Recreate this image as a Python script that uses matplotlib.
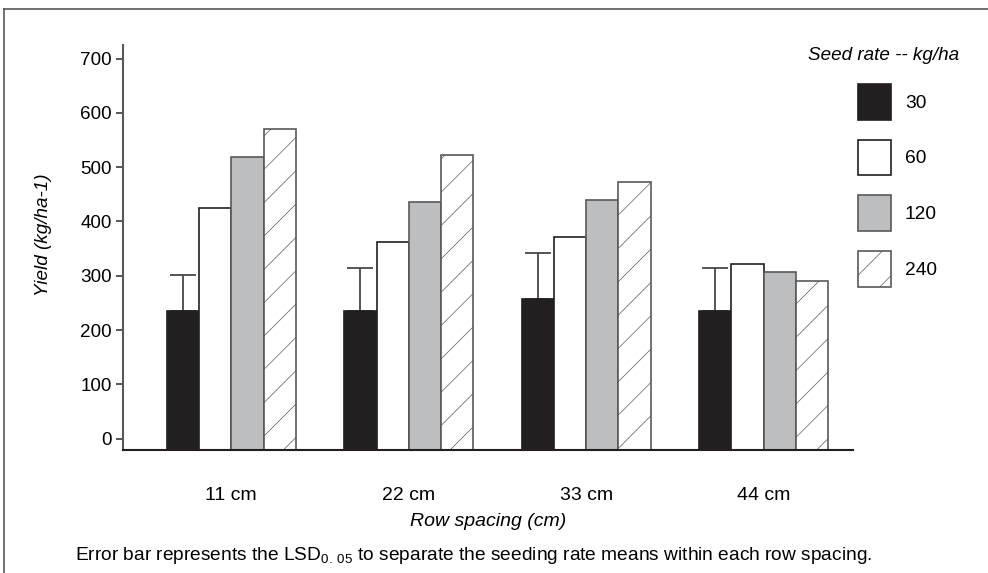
import matplotlib
matplotlib.use('Agg')
import matplotlib.pyplot as plt
from matplotlib.patches import Patch
from matplotlib.lines import Line2D
import numpy as np

plt.rcParams['font.family'] = ['Liberation Sans', 'DejaVu Sans']
plt.rcParams['mathtext.fontset'] = 'custom'
plt.rcParams['mathtext.rm'] = 'Liberation Sans'
plt.rcParams['hatch.color'] = '#d2d3d5'
plt.rcParams['hatch.linewidth'] = 0.5

# data
spacings = ['11 cm', '22 cm', '33 cm', '44 cm']
rates = ['30', '60', '120', '240']
yield_30 = [235, 235, 258, 235]
yield_60 = [424, 363, 371, 321]
yield_120 = [518, 435, 439, 306]
yield_240 = [571, 522, 473, 291]
lsd = [67, 79, 84, 79]

series = [yield_30, yield_60, yield_120, yield_240]
faces = ['#231f20', 'white', '#bcbec0', 'white']
edges = ['#231f20', '#231f20', '#58595b', '#58595b']
hatches = [None, None, None, '/']

ymin, ymax = -21, 725
fig = plt.figure(figsize=(9.88, 5.73), dpi=100)
ax = fig.add_axes([123 / 988, 1 - 450 / 573, 730 / 988, 405 / 573])

x = np.arange(len(spacings))
w = 0.1817
for i, vals in enumerate(series):
    xs = x + (i - 1.5) * w
    v = np.array(vals)
    ax.bar(xs, v - ymin, bottom=ymin, width=w, color=faces[i], edgecolor=edges[i],
           linewidth=1.2, hatch=hatches[i], label=rates[i], zorder=2)
    if i == 0:
        ax.errorbar(xs, v, yerr=[np.zeros(len(v)), lsd], fmt='none', ecolor='#48484a',
                    elinewidth=1.3, capsize=9.5, capthick=1.3, zorder=1)

ax.set_xlim(-0.61, 3.503)
ax.set_ylim(ymin, ymax)
ax.set_yticks(range(0, 701, 100))
ax.set_xticks(x)
ax.set_xticklabels(spacings)
ax.tick_params(axis='y', length=5, width=1.2, color='#3a3a3c', labelsize=13.6, pad=3)
ax.tick_params(axis='x', length=0, labelsize=14, pad=27)
for s in ['top', 'right']:
    ax.spines[s].set_visible(False)
ax.spines['left'].set_color('#58595b')
ax.spines['left'].set_linewidth(1.5)
ax.spines['bottom'].set_color('#231f20')
ax.spines['bottom'].set_linewidth(1.5)

ax.set_ylabel('Yield (kg/ha-1)', fontsize=13.6, style='italic')
ax.yaxis.set_label_coords(-0.097, 0.531)
ax.set_xlabel('Row spacing (cm)', fontsize=14, style='italic', labelpad=6)

handles = [Patch(facecolor=faces[i], edgecolor=edges[i], hatch=hatches[i], linewidth=1.2)
           for i in range(4)]
fig.legend(handles, rates, loc='upper left', bbox_to_anchor=(858 / 988, 1 - 84 / 573),
           frameon=False, fontsize=13.8, handlelength=1.72, handleheight=2.5,
           labelspacing=1.03, handletextpad=0.73, borderpad=0, borderaxespad=0)
fig.text(884 / 988, 1 - 56 / 573, 'Seed rate -- kg/ha', fontsize=13.6, style='italic',
         ha='center', va='center')

fig.text(75 / 988, 1 - 556 / 573,
         r'Error bar represents the LSD$_{\mathrm{0.\,05}}$ to separate the seeding rate means within each row spacing.',
         fontsize=13.8, ha='left', va='center')

# frame lines of the original figure
fig.add_artist(Line2D([4 / 988, 1], [1 - 9 / 573] * 2, color='#58595b', lw=1.2))
fig.add_artist(Line2D([4 / 988] * 2, [0, 1 - 9 / 573], color='#58595b', lw=1.2))

fig.savefig('out.png', dpi=100)
